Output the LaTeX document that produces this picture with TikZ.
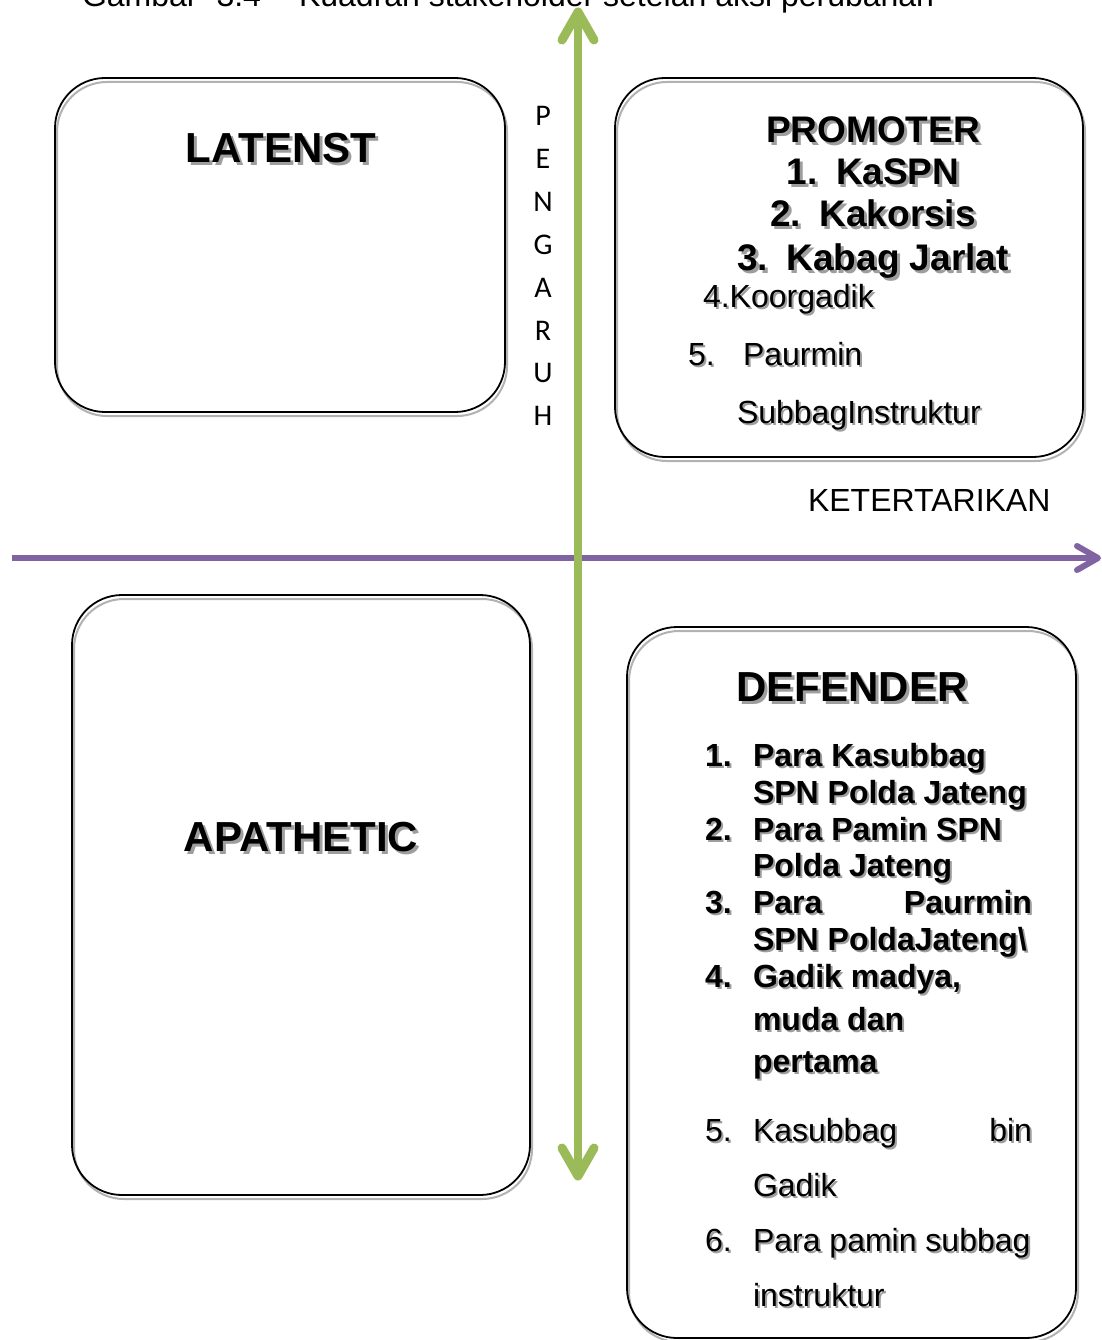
\documentclass[tikz,border=0pt]{standalone}
\usepackage{fontspec}
\setmainfont{Liberation Sans}
\newfontfamily\calfont{Carlito}
\definecolor{axgreen}{HTML}{9BBB59}
\definecolor{axpurple}{HTML}{8064A2}
\definecolor{shgray}{gray}{0.62}
\newcommand\shd[2][2pt]{\makebox[0pt][l]{\hspace{#1}\raisebox{-#1}{\textcolor{shgray}{#2}}}#2}
\begin{document}
\begin{tikzpicture}[x=1pt,y=-1pt,
  qbox/.style={draw=black, line width=1.8pt, rounded corners=50pt, inner sep=0pt,
    preaction={draw=black!30, line width=2pt, transform canvas={xshift=2pt,yshift=-4pt}}},
  lbl/.style={inner sep=0pt, outer sep=0pt},
  bigt/.style={lbl, anchor=base, font=\fontsize{42}{48}\selectfont\bfseries},
  midt/.style={lbl, anchor=base, font=\fontsize{37}{42}\selectfont\bfseries},
  regt/.style={lbl, anchor=base west, font=\fontsize{32}{38}\selectfont},
  boldi/.style={lbl, anchor=base west, font=\fontsize{32}{38}\selectfont\bfseries},
  pgr/.style={lbl, anchor=base, font=\fontsize{30}{36}\selectfont\calfont},
  gline/.style={draw=axgreen, line width=8pt},
  ghead/.style={draw=axgreen, line width=9pt, line cap=round, line join=round},
  pline/.style={draw=axpurple, line width=6.5pt},
  phead/.style={draw=axpurple, line width=6pt, line cap=round, line join=round}
]
\useasboundingbox (0,0) rectangle (1101,1340);
\clip (0,0) rectangle (1101,1340);
\fill[white] (0,0) rectangle (1101,1340);

% caption (cut off at top)
\node[regt] (cap) at (82,7)
  {Gambar\hspace{19pt}3.4\hspace{38pt}Kuadran stakeholder setelah aksi perubahan};

% quadrant boxes
\node[qbox, minimum width=450pt, minimum height=334pt] (latent) at (280,245) {};
\node[qbox, minimum width=468pt, minimum height=379pt] (promoter) at (849,267.5) {};
\node[qbox, minimum width=458pt, minimum height=600pt] (apathetic) at (301,895) {};
\node[qbox, minimum width=449pt, minimum height=711pt] (defender) at (851.5,982.5) {};

% horizontal axis
\coordinate (pleft) at (12,558);
\coordinate (pright) at (1098,558);
\draw[pline] (pleft) -- ([xshift=-3pt]pright);
\draw[phead] ([shift={(-21,-12)}]pright) -- (pright) -- ([shift={(-21,12)}]pright);
% vertical axis
\coordinate (gbot) at (578,1176);
\coordinate (gtop) at (578,12);
\draw[gline] ([shift={(0,-4)}]gbot) -- ([shift={(0,4)}]gtop);
\draw[ghead] ([shift={(-16,28)}]gtop) -- (gtop) -- ([shift={(16,28)}]gtop);
\draw[ghead] ([shift={(-16,-28)}]gbot) -- (gbot) -- ([shift={(16,-28)}]gbot);

% LATENST
\node[bigt] (tlat) at (281,163) {\shd[3pt]{LATENST}};

% PROMOTER
\node[midt] (tprom) at (873,143) {\shd[3pt]{PROMOTER}};
\node[midt] (p1) at (873,185) {\shd[3pt]{1.\hspace{0.5em}KaSPN}};
\node[midt] (p2) at (873,227) {\shd[3pt]{2.\hspace{0.5em}Kakorsis}};
\node[midt] (p3) at (873,270) {\shd[3pt]{3.\hspace{0.5em}Kabag Jarlat}};
\node[regt] (p4) at (703,307) {\shd{4.Koorgadik}};
\node[regt] (p5n) at (688,365) {\shd{5.}};
\node[regt] (p5) at (743,365) {\shd{Paurmin}};
\node[regt] (p6) at (737,423) {\shd{SubbagInstruktur}};

% PENGARUH
\foreach \ch [count=\i from 0] in {P,E,N,G,A,R,U,H}
  \node[pgr] (pg\i) at (543,{126+42.8*\i}) {\ch};

% KETERTARIKAN
\node[regt] (ket) at (808,511) {KETERTARIKAN};

% APATHETIC
\node[bigt] (tapa) at (301,851) {\shd[3pt]{APATHETIC}};

% DEFENDER
\node[bigt] (tdef) at (852,701) {\shd[3pt]{DEFENDER}};
\node[boldi] (d1n) at (705,766) {\shd{1.}};
\node[boldi] (d1a) at (753,766) {\shd{Para Kasubbag}};
\node[boldi] (d1b) at (753,803) {\shd{SPN Polda Jateng}};
\node[boldi] (d2n) at (705,840) {\shd{2.}};
\node[boldi] (d2a) at (753,840) {\shd{Para Pamin SPN}};
\node[boldi] (d2b) at (753,876) {\shd{Polda Jateng}};
\node[boldi] (d3n) at (705,913) {\shd{3.}};
\node[boldi] (d3a) at (753,913) {\shd{Para}};
\node[boldi, anchor=base east] (d3c) at (1032,913) {\shd{Paurmin}};
\node[boldi] (d3b) at (753,950) {\shd{SPN PoldaJateng\textbackslash}};
\node[boldi] (d4n) at (705,987) {\shd{4.}};
\node[boldi] (d4a) at (753,987) {\shd{Gadik madya,}};
\node[boldi] (d4b) at (753,1030) {\shd{muda dan}};
\node[boldi] (d4c) at (753,1072) {\shd{pertama}};
\node[regt] (d5n) at (705,1141) {\shd{5.}};
\node[regt] (d5a) at (753,1141) {\shd{Kasubbag}};
\node[regt, anchor=base east] (d5c) at (1032,1141) {\shd{bin}};
\node[regt] (d5b) at (753,1196) {\shd{Gadik}};
\node[regt] (d6n) at (705,1251) {\shd{6.}};
\node[regt] (d6a) at (753,1251) {\shd{Para pamin subbag}};
\node[regt] (d6b) at (753,1306) {\shd{instruktur}};
\end{tikzpicture}
\end{document}
